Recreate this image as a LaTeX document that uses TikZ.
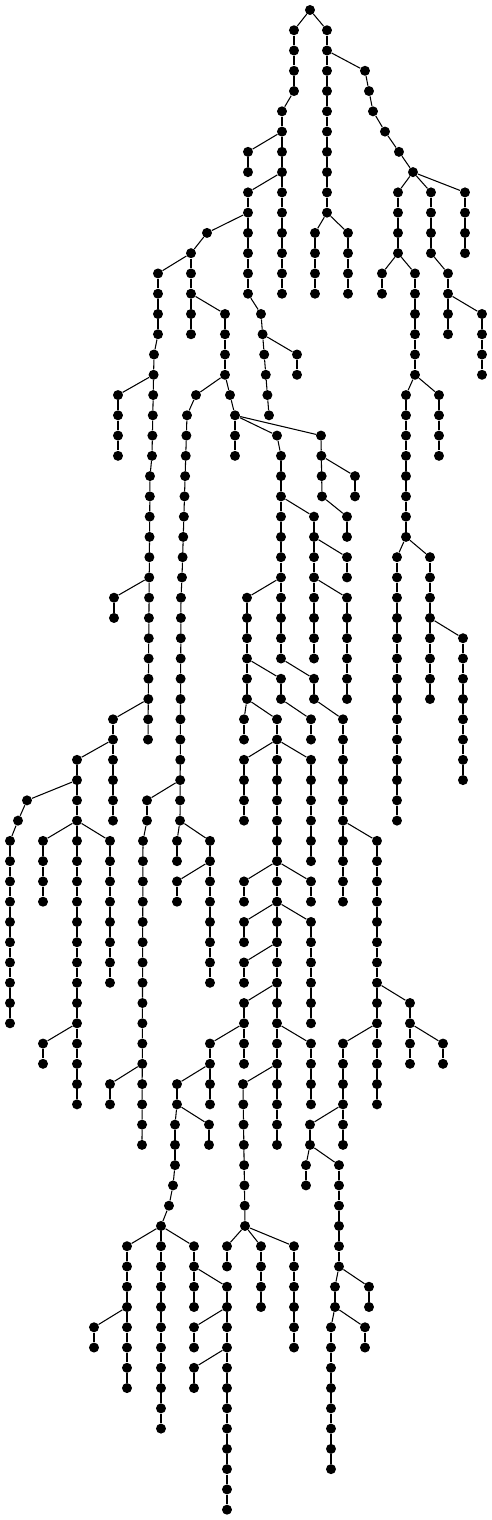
\documentclass[tikz,border=0pt]{standalone}
\begin{document}
\begin{tikzpicture}[x=0.2mm,y=-4.0532mm,
    dot/.style={circle,fill=black,inner sep=0pt,minimum size=2mm},
    twig/.style={line width=0.6pt}]
\useasboundingbox (0,-0.4934) rectangle (492,74.51);
\node[dot] (r-0) at (310,0) {};
\foreach \nm/\xa/\xb/\la/\lb/\pa in {
  a/294/294/1/4/r-0, b/327/327/1/10/r-0,
  d/365/373/3/5/b-2, d2/385/413/6/8/d-5,
  ra/315/315/11/14/b-10, rb/348/348/11/14/b-10,
  ca/398/398/9/12/d2-8, ci/431/431/9/12/d2-8, cl/465/465/9/12/d2-8,
  cb/382/382/13/14/ca-12, cc/415/415/13/18/ca-12,
  cj/448/448/13/16/ci-12, ck/482/482/15/18/cj-14,
  cd/406/406/19/26/cc-18, ch/439/439/19/22/cc-18,
  ce/397/397/27/40/cd-26, cf/430/430/27/34/cd-26, cg/463/463/31/38/cf-30,
  e/282/282/5/14/a-4, f/248/248/7/8/e-6, g/248/248/9/14/e-8,
  h/207/207/11/11/g-10, i/191/191/12/16/h-11,
  j/158/158/13/16/i-12, j2/154/152/17/22/j-16, j3/150/148/23/36/j2-22,
  k/118/118/19/22/j2-18, m/114/114/29/30/j3-28, l/113/113/35/40/j3-34,
  n/77/77/37/54/l-36, o/27/18/39/40/n-38, o2/10/10/41/50/o-40,
  p/43/43/41/44/n-40, q/110/110/41/48/n-40, s/43/43/51/52/n-50,
  t/261/269/15/20/g-14, u/297/297/17/18/t-16,
  v/225/225/15/18/i-14, w/196/196/19/19/v-18,
  w2/187/182/20/28/w-19, w3/181/180/29/40/w2-28,
  x1/147/147/39/40/w3-38, x2/143/142/41/56/x1-40, y/110/110/53/54/x2-52,
  z/177/177/41/42/w3-40, aa/210/210/41/48/w3-40, ab/177/177/43/44/aa-42,
  ac/230/230/19/19/v-18, ac2/235/235/20/22/ac-19,
  ad/277/277/21/21/ac2-20, ad2/281/281/22/32/ad-21,
  ae/321/322/21/24/ac2-20, af/355/355/23/24/ae-22, ag/347/347/25/26/ae-24,
  ah/314/314/25/32/ad2-24, ai/347/347/27/28/ah-26, aj/347/347/29/34/ah-28,
  ay/247/247/29/34/ad2-28, az/281/281/33/34/ay-32, ak/314/314/33/34/ad2-32,
  al/343/343/35/44/ak-34,
  ba/244/244/35/36/ay-34, bb/277/277/35/36/ay-34, bc/311/311/35/36/az-34,
  bd/244/244/37/40/bb-36, be/277/277/37/42/bb-36, bf/311/311/37/42/bb-36,
  bg/244/244/43/44/be-42, bh/277/277/43/44/be-42, bi/311/311/43/44/be-42,
  bj/244/244/45/46/bh-44, bk/277/277/45/48/bh-44, bl/311/311/45/50/bh-44,
  bm/244/244/47/48/bk-46, bn/244/244/49/52/bk-48, bo/277/277/49/56/bk-48,
  bp/311/311/51/54/bo-50, bq/243/245/53/60/bo-52,
  br/210/210/51/54/bn-50, bs/177/177/53/54/br-52,
  bt/175/175/55/57/bs-54, bu/173/169/58/59/bt-57, bv/161/161/60/60/bu-59,
  bw/209/209/55/56/bs-54,
  cx/127/127/61/64/bv-60, cy/161/161/61/70/bv-60, cz/194/194/61/62/bv-60,
  da/94/94/65/66/cx-64, db/127/127/65/68/cx-64,
  dc/194/194/63/64/cz-62, dd/227/227/63/64/cz-62,
  de/194/194/65/66/dd-64, df/227/227/65/66/dd-64,
  dg/194/194/67/68/df-66, dh/227/227/67/74/df-66,
  di/227/227/61/62/bq-60, dj/261/261/61/64/bq-60, dk/294/294/61/66/bq-60,
  am/377/377/41/54/al-40, an/410/410/49/52/am-48, ao/443/443/51/52/an-50,
  ap/343/343/51/56/am-50, aq/310/310/55/56/ap-54,
  ar/306/306/57/58/aq-56, as/339/339/57/62/aq-56,
  at/335/335/63/64/as-62, au/369/369/63/64/as-62,
  av/331/331/65/72/at-64, aw/365/365/65/66/at-64}{
  \foreach \lv in {\la,...,\lb}{
    \pgfmathsetmacro\xx{\xa+(\xb-\xa)*(\lv-\la)/max(\lb-\la,1)}
    \node[dot] (\nm-\lv) at (\xx,\lv) {};
  }
  \draw[twig] (\pa) -- (\nm-\la);
  \foreach \lv in {\la,...,\lb}{
    \ifnum\lv>\la
      \pgfmathtruncatemacro\lp{\lv-1}
      \draw[twig] (\nm-\lp) -- (\nm-\lv);
    \fi
  }
}
\end{tikzpicture}
\end{document}
